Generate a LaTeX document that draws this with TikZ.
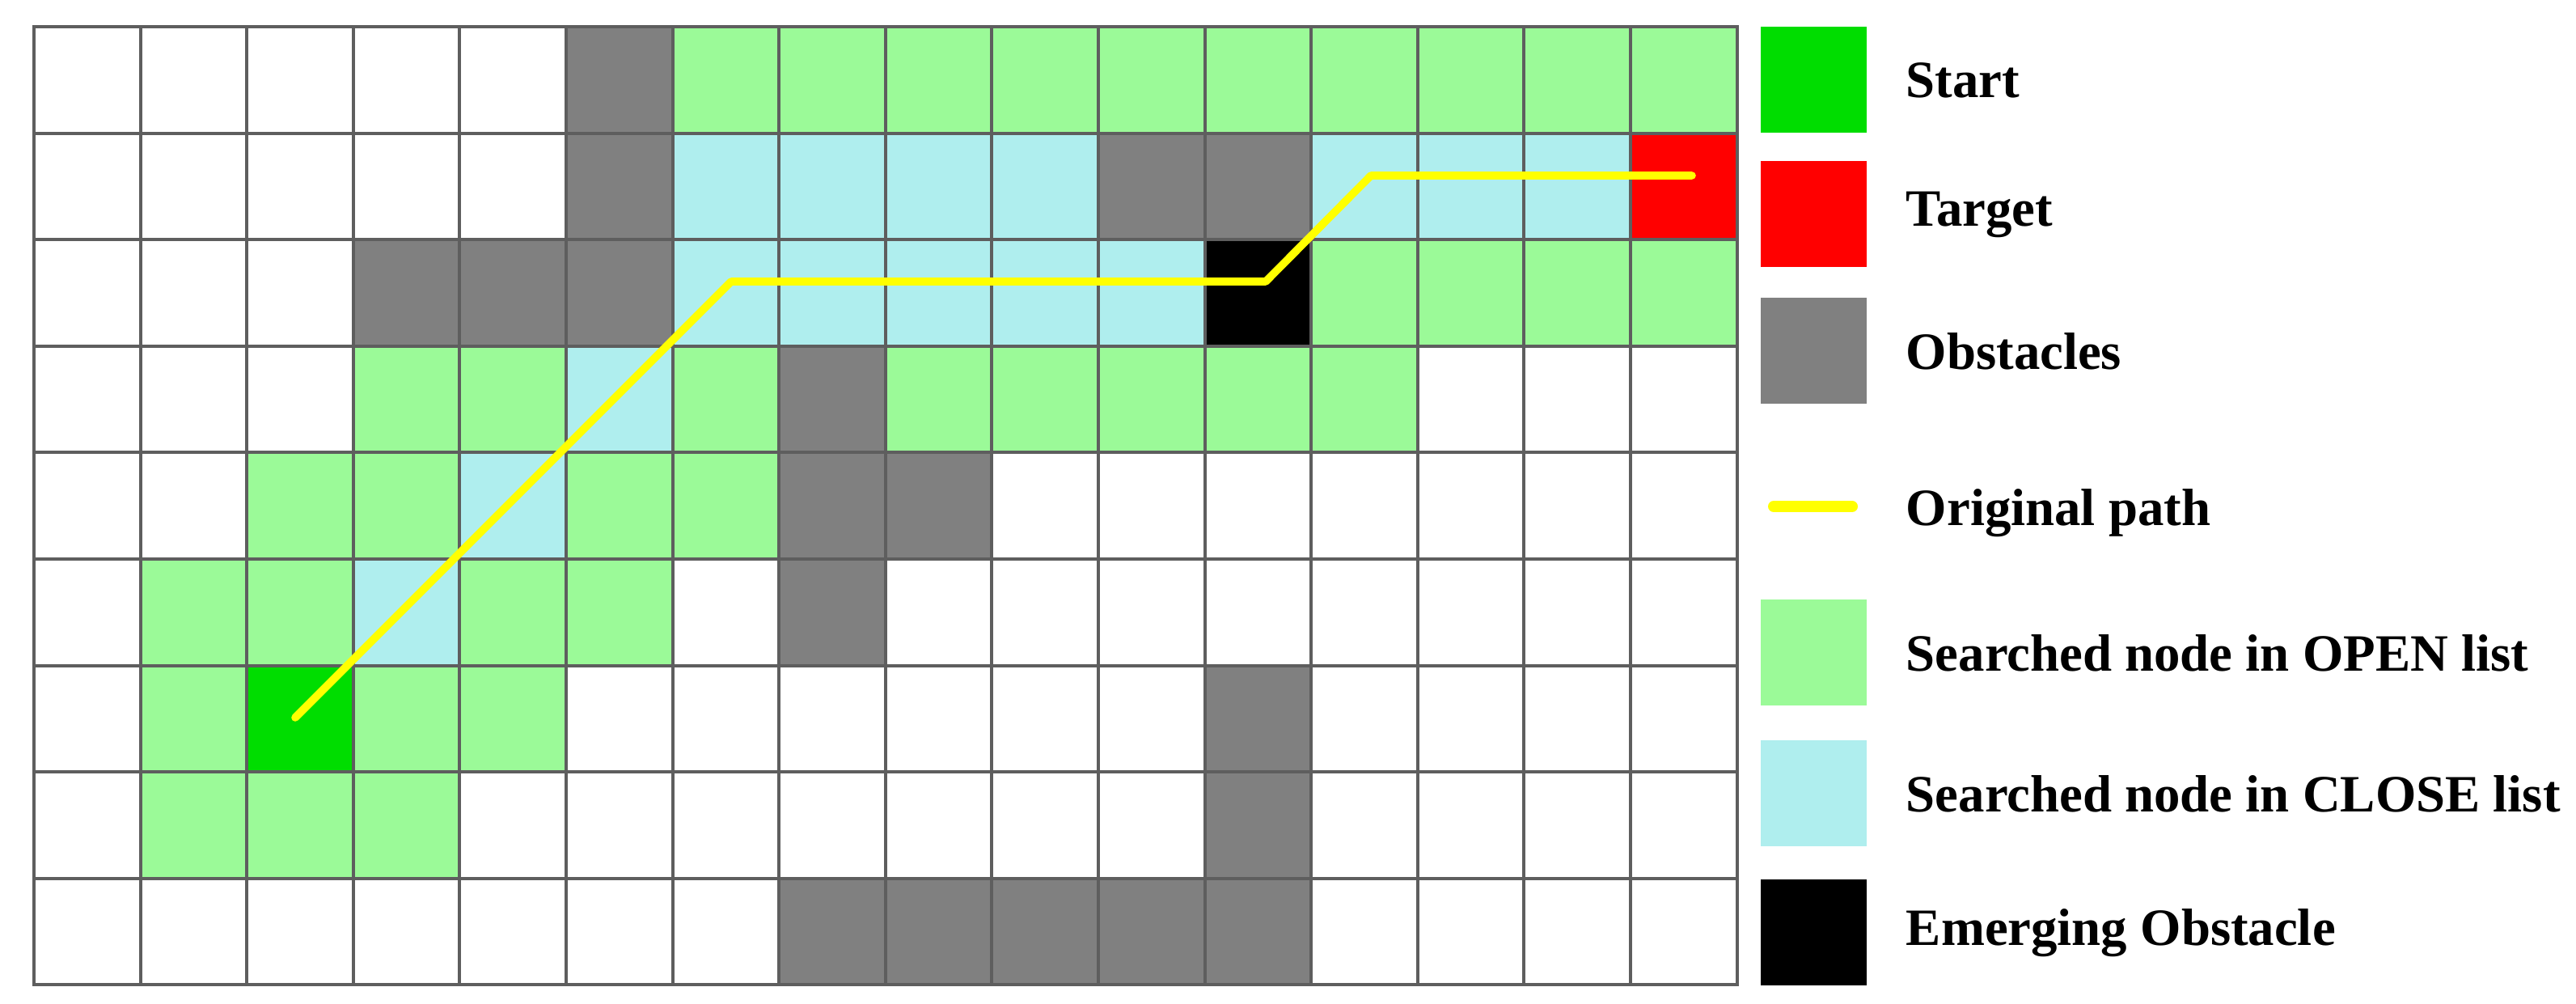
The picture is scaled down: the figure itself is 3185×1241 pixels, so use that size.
\documentclass[tikz,border=0pt]{standalone}
\usepackage{fontspec}
\setmainfont{Liberation Serif}
\definecolor{cellW}{HTML}{FFFFFF}
\definecolor{cellG}{HTML}{808080}
\definecolor{cellO}{HTML}{9BFA98}
\definecolor{cellC}{HTML}{AFEEEE}
\definecolor{cellS}{HTML}{00DD00}
\definecolor{cellT}{HTML}{FF0000}
\definecolor{cellK}{HTML}{000000}
\definecolor{gridcol}{HTML}{5E5E5E}
\definecolor{pathcol}{HTML}{FFFF00}
\tikzset{
  gridline/.style={draw=gridcol, line width=1pt, line cap=rect},
  pathline/.style={draw=pathcol, line width=2.4pt, line cap=round, line join=round},
  legtext/.style={anchor=west, inner sep=0pt, font=\fontsize{16.2}{19}\selectfont\bfseries},
}
\begin{document}
\begin{tikzpicture}[x=0.25pt,y=-0.25pt]
\useasboundingbox (0,0) rectangle (3185,1241);
% cells
\foreach \rowlist [count=\r from 0] in {
 {W,W,W,W,W,G,O,O,O,O,O,O,O,O,O,O},
 {W,W,W,W,W,G,C,C,C,C,G,G,C,C,C,T},
 {W,W,W,G,G,G,C,C,C,C,C,K,O,O,O,O},
 {W,W,W,O,O,C,O,G,O,O,O,O,O,W,W,W},
 {W,W,O,O,C,O,O,G,G,W,W,W,W,W,W,W},
 {W,O,O,C,O,O,W,G,W,W,W,W,W,W,W,W},
 {W,O,S,O,O,W,W,W,W,W,W,G,W,W,W,W},
 {W,O,O,O,W,W,W,W,W,W,W,G,W,W,W,W},
 {W,W,W,W,W,W,W,G,G,G,G,G,W,W,W,W}} {
  \foreach \c [count=\k from 0] in \rowlist {
    \fill[cell\c] ({42+\k*131.6},{33+\r*131.6}) rectangle ++(131.6,131.6);
  }
}
% grid lines
\foreach \k in {0,...,16} {
  \draw[gridline] ({42+\k*131.6},33) -- ({42+\k*131.6},{33+9*131.6});
}
\foreach \r in {0,...,9} {
  \draw[gridline] (42,{33+\r*131.6}) -- ({42+16*131.6},{33+\r*131.6});
}
% original path
\coordinate (p0) at (365,887);
\coordinate (p1) at (904,348);
\coordinate (p2) at (1565,348);
\coordinate (p3) at (1695,217);
\coordinate (p4) at (2092,217);
\draw[pathline] (p0) -- (p1) -- (p2) -- (p3) -- (p4);
% legend
\fill[cellS] (2177,33) rectangle ++(131,131);
\node[legtext] (lstart) at (2356,99) {Start};
\fill[cellT] (2177,199) rectangle ++(131,131);
\node[legtext] (ltarget) at (2356,265) {Target};
\fill[cellG] (2177,368) rectangle ++(131,131);
\node[legtext] (lobst) at (2356,434) {Obstacles};
\coordinate (la) at (2193,626);
\coordinate (lb) at (2290,626);
\draw[draw=pathcol, line width=3.5pt, line cap=round] (la) -- (lb);
\node[legtext] (lpath) at (2356,634) {Original path};
\fill[cellO] (2177,741) rectangle ++(131,131);
\node[legtext] (lopen) at (2356,807) {Searched node in OPEN list};
\fill[cellC] (2177,915) rectangle ++(131,131);
\node[legtext] (lclose) at (2356,981) {Searched node in CLOSE list};
\fill[cellK] (2177,1087) rectangle ++(131,131);
\node[legtext] (lemerg) at (2356,1153) {Emerging Obstacle};
\end{tikzpicture}
\end{document}
